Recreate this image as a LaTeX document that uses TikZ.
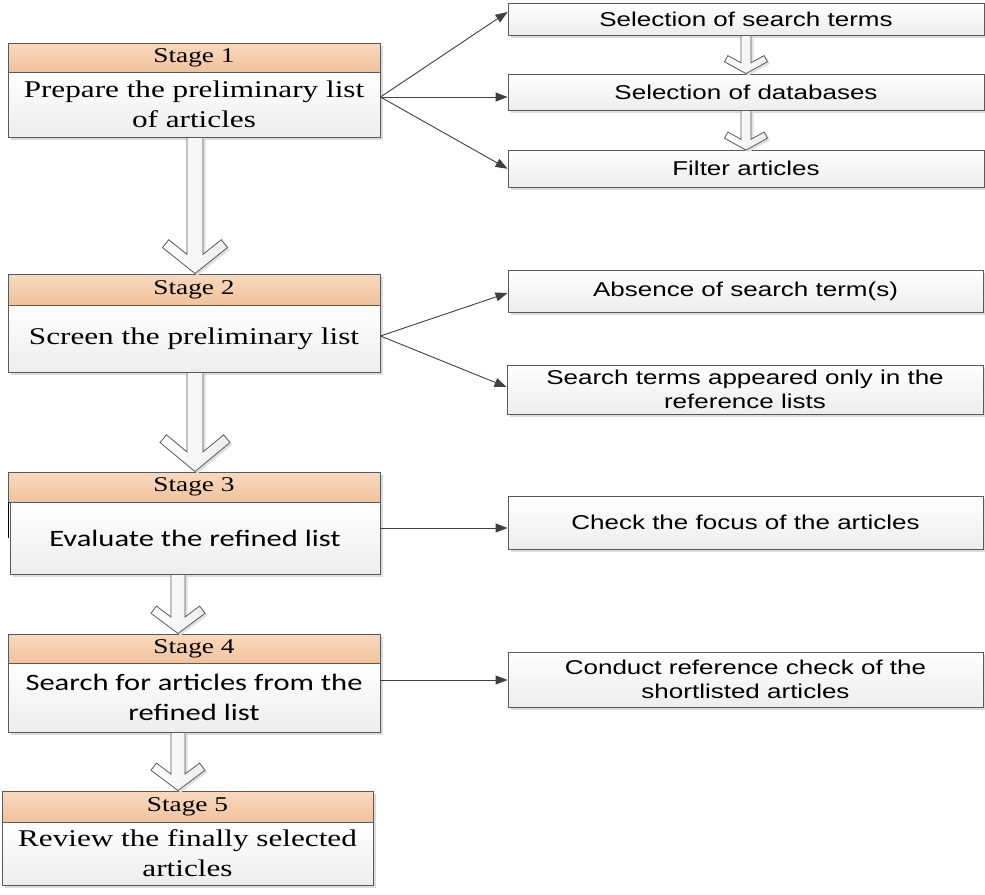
\documentclass[tikz,border=0pt]{standalone}
\usepackage{fontspec}
\newfontfamily\tmsfont[FakeStretch=1.3]{Liberation Serif}
\newfontfamily\arsfont[FakeStretch=1.3]{Liberation Sans}
\newfontfamily\crlfont[FakeStretch=1.3]{Carlito}
\usetikzlibrary{calc,shadows,arrows.meta}

\definecolor{hdrtop}{HTML}{F9D9BF}
\definecolor{hdrbot}{HTML}{F1C29C}
\definecolor{edgecol}{HTML}{5A5A5A}
\definecolor{lnkcol}{HTML}{404040}

\tikzset{
  basebox/.style={draw=edgecol, line width=0.9pt, inner sep=0pt, align=center,
    drop shadow={shadow xshift=2.5pt,shadow yshift=-2.5pt,fill=black!14,opacity=1}},
  hdrbox/.style={basebox, top color=hdrtop, bottom color=hdrbot,
    font=\tmsfont\fontsize{21}{25}\selectfont},
  bodybox/.style={basebox, top color=white, bottom color=black!7},
  tbody/.style={bodybox, font=\tmsfont\fontsize{24}{30}\selectfont},
  cbody/.style={bodybox, font=\crlfont\fontsize{23.5}{30}\selectfont},
  sidebox/.style={bodybox, font=\arsfont\fontsize{20}{24.5}\selectfont, minimum width=476pt},
  conn/.style={draw=lnkcol, line width=0.9pt, -{Triangle[length=12pt,width=9pt]}},
  harrow/.style={draw=edgecol, line width=0.8pt, left color=white, right color=black!7,
    drop shadow={shadow xshift=2.5pt,shadow yshift=-2pt,fill=black!12,opacity=1}}
}

% #1 start (shaft top), #2 end (tip), #3 shaft half width, #4 head half width, #5 arm thickness, #6 slope
\newcommand\blockarrow[6]{%
  \pgfmathsetmacro\bkN{sqrt(1+#6*#6)}%
  \pgfmathsetmacro\bkSy{#5*\bkN+#6*#3}%
  \pgfmathsetmacro\bkDy{#6*#4}%
  \pgfmathsetmacro\bkIx{#4-#6*#5/\bkN}%
  \pgfmathsetmacro\bkIy{#6*#4+#5/\bkN}%
  \draw[harrow] let \p1=(#1), \p2=(#2) in
    (\x2-#3pt,\y1) -- (\x2-#3pt,\y2+\bkSy pt) -- (\x2-\bkIx pt,\y2+\bkIy pt)
    -- (\x2-#4pt,\y2+\bkDy pt) -- (\x2,\y2) -- (\x2+#4pt,\y2+\bkDy pt)
    -- (\x2+\bkIx pt,\y2+\bkIy pt) -- (\x2+#3pt,\y2+\bkSy pt) -- (\x2+#3pt,\y1) -- cycle;%
}

\begin{document}
\begin{tikzpicture}[x=1pt,y=-1pt]
\useasboundingbox (0,0) rectangle (985,894);

% stages
\node[hdrbox, minimum width=372pt, minimum height=29pt] (s1h) at (194,57.5) {Stage 1};
\node[tbody, minimum width=372pt, minimum height=65pt] (s1b) at (194,104.5) {Prepare the preliminary list\\of articles};

\node[hdrbox, minimum width=372pt, minimum height=31pt] (s2h) at (194,289.5) {Stage 2};
\node[tbody, minimum width=372pt, minimum height=67pt] (s2b) at (194,338.5) {Screen the preliminary list};

\node[hdrbox, minimum width=372pt, minimum height=30pt] (s3h) at (194,487) {Stage 3};
\draw[black, line width=0.9pt] (193,502) -- (8,502) -- (8,538);
\node[cbody, minimum width=370pt, minimum height=72pt] (s3b) at (195,538) {Evaluate the refined list};

\node[hdrbox, minimum width=372pt, minimum height=29pt] (s4h) at (194,648.5) {Stage 4};
\node[cbody, minimum width=372pt, minimum height=69pt] (s4b) at (194,697.5) {Search for articles from the\\refined list};

\node[hdrbox, minimum width=371pt, minimum height=31pt] (s5h) at (187.5,806.5) {Stage 5};
\node[tbody, minimum width=371pt, minimum height=63pt] (s5b) at (187.5,853.5) {Review the finally selected\\articles};

% side boxes
\node[sidebox, minimum height=32pt] (r1) at (746,19) {Selection of search terms};
\node[sidebox, minimum height=36pt] (r2) at (746,92) {Selection of databases};
\node[sidebox, minimum height=36.5pt] (r3) at (746,168.75) {Filter articles};
\node[sidebox, minimum width=475pt, minimum height=42pt] (a1) at (745.5,291) {Absence of search term(s)};
\node[sidebox, minimum height=49pt] (a2) at (745,389.5) {Search terms appeared only in the\\reference lists};
\node[sidebox, minimum width=475pt, minimum height=53pt] (c1) at (745.5,522.5) {Check the focus of the articles};
\node[sidebox, minimum width=475pt, minimum height=55pt] (c2) at (745.5,679.5) {Conduct reference check of the\\shortlisted articles};

% hollow block arrows
\blockarrow{[xshift=1pt]s1b.south}{[xshift=1pt]s2h.north}{8}{32.5}{10}{0.8}
\blockarrow{[xshift=1pt]s2b.south}{[xshift=1pt]s3h.north}{8}{35}{10}{0.83}
\blockarrow{[xshift=-17pt]s3b.south}{[xshift=-16pt]s4h.north}{7}{27}{9}{0.75}
\blockarrow{[xshift=-16pt]s4b.south}{[xshift=-9.5pt]s5h.north}{7}{27}{9}{0.75}
\blockarrow{r1.south}{r2.north}{5}{21.5}{7}{0.55}
\blockarrow{r2.south}{r3.north}{5}{21.5}{7}{0.55}

% connectors
\coordinate (o1) at ([yshift=7.5pt]s1b.east);
\draw[conn] (o1) -- ([yshift=7pt]r1.west);
\draw[conn] (o1) -- (o1 -| r2.west);
\draw[conn] (o1) -- (r3.west);

\coordinate (o2) at ([yshift=2.5pt]s2b.east);
\draw[conn] (o2) -- ([yshift=-2pt]a1.west);
\draw[conn] (o2) -- ([yshift=2.5pt]a2.west);

\coordinate (o3) at ([yshift=10pt]s3b.east);
\draw[conn] (o3) -- (o3 -| c1.west);

\coordinate (o4) at ([yshift=17.5pt]s4b.east);
\draw[conn] (o4) -- (o4 -| c2.west);
\end{tikzpicture}
\end{document}
